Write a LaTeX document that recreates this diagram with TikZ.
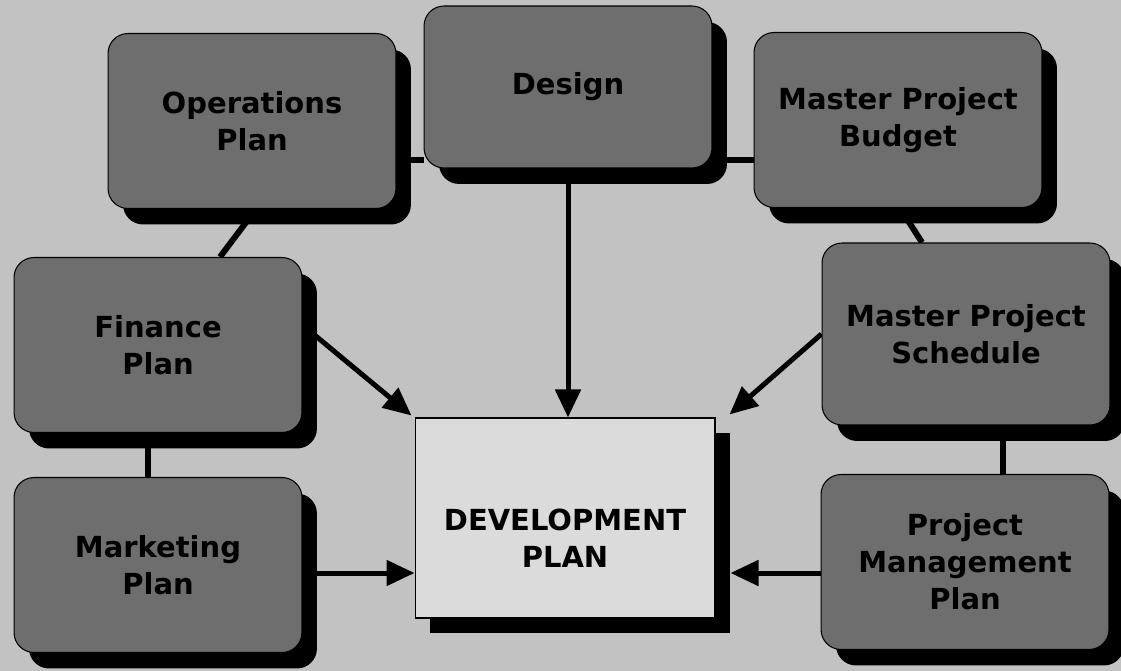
\documentclass[tikz,border=0pt]{standalone}
\usepackage{fontspec}
\setmainfont{DejaVu Sans}
\usepackage{tikz}
\usetikzlibrary{positioning}
\usetikzlibrary{arrows.meta,shadows,backgrounds,calc}
\definecolor{paper}{gray}{0.76}
\definecolor{darkbox}{gray}{0.43}
\definecolor{lightbox}{gray}{0.86}

\begin{document}
\begin{tikzpicture}
[x=0.02cm, y=-0.02cm, >={Triangle[length=0.56cm, width=0.5cm]},
 planbox/.style={draw=black, line width=0.6pt, fill=darkbox, rounded corners=0.4cm,
   minimum width=5.76cm, minimum height=3.5cm, align=center,
   font=\fontsize{16.5}{21}\selectfont\bfseries,
   drop shadow={shadow xshift=0.3cm, shadow yshift=-0.32cm, fill=black, opacity=1}},
 devbox/.style={draw=black, line width=0.6pt, fill=lightbox,
   minimum width=6cm, minimum height=4cm,
   drop shadow={shadow xshift=0.3cm, shadow yshift=-0.3cm, fill=black, opacity=1}},
 link/.style={line width=0.12cm},
 feed/.style={line width=0.1cm, ->}]

\useasboundingbox (0,0) rectangle (1121,671);

% The plans:
\node[planbox] (ops)       at (252,121)   {Operations\\Plan};
\node[planbox, minimum height=3.24cm] (design) at (568,87) {Design};
\node[planbox] (budget)    at (898,120)   {Master Project\\Budget};
\node[planbox] (finance)   at (158,345)   {Finance\\Plan};
\node[planbox, minimum height=3.64cm] (schedule) at (966,334) {Master Project\\Schedule};
\node[planbox] (marketing) at (158,565)   {Marketing\\Plan};
\node[planbox] (pm)        at (965,562)   {Project\\Management\\Plan};

% Development plan in the middle:
\node[devbox] (dev) at (565,518) {};
\node[align=center, font=\fontsize{16.5}{21}\selectfont\bfseries] (devtitle)
  at (565,538) {DEVELOPMENT\\PLAN};

\coordinate (toplink) at (0,160);
\coordinate (lowfeed) at (0,573);

\begin{pgfonlayer}{background}
\fill[paper] (0,0) rectangle (1121,671);

% Links between the plans:
\draw[link] (ops.east |- toplink) -- (design.west |- toplink);
\draw[link] (design.east |- toplink) -- (budget.west |- toplink);
\draw[link] ($(ops.south)+(4,0)$) -- ($(finance.north)+(62,0)$);
\draw[link] ($(budget.south)+(2,0)$) -- ($(schedule.north)+(-44,0)$);
\draw[link] ($(finance.south)+(-10,0)$) -- ($(marketing.north)+(-10,0)$);
\draw[link] ($(schedule.south)+(37,0)$) -- ($(pm.north)+(38,0)$);

% Feeds into the development plan:
\draw[feed] (design.south) -- (design.south |- dev.north);
\draw[feed] ($(finance.east)+(0,-20)$) -- ($(dev.north west)+(-3,-2)$);
\draw[feed] (schedule.west) -- ($(dev.north east)+(14,-3)$);
\draw[feed] (marketing.east |- lowfeed) -- (dev.west |- lowfeed);
\draw[feed] (pm.west |- lowfeed) -- ($(dev.east |- lowfeed)+(15,0)$);
\end{pgfonlayer}

\end{tikzpicture}
\end{document}
